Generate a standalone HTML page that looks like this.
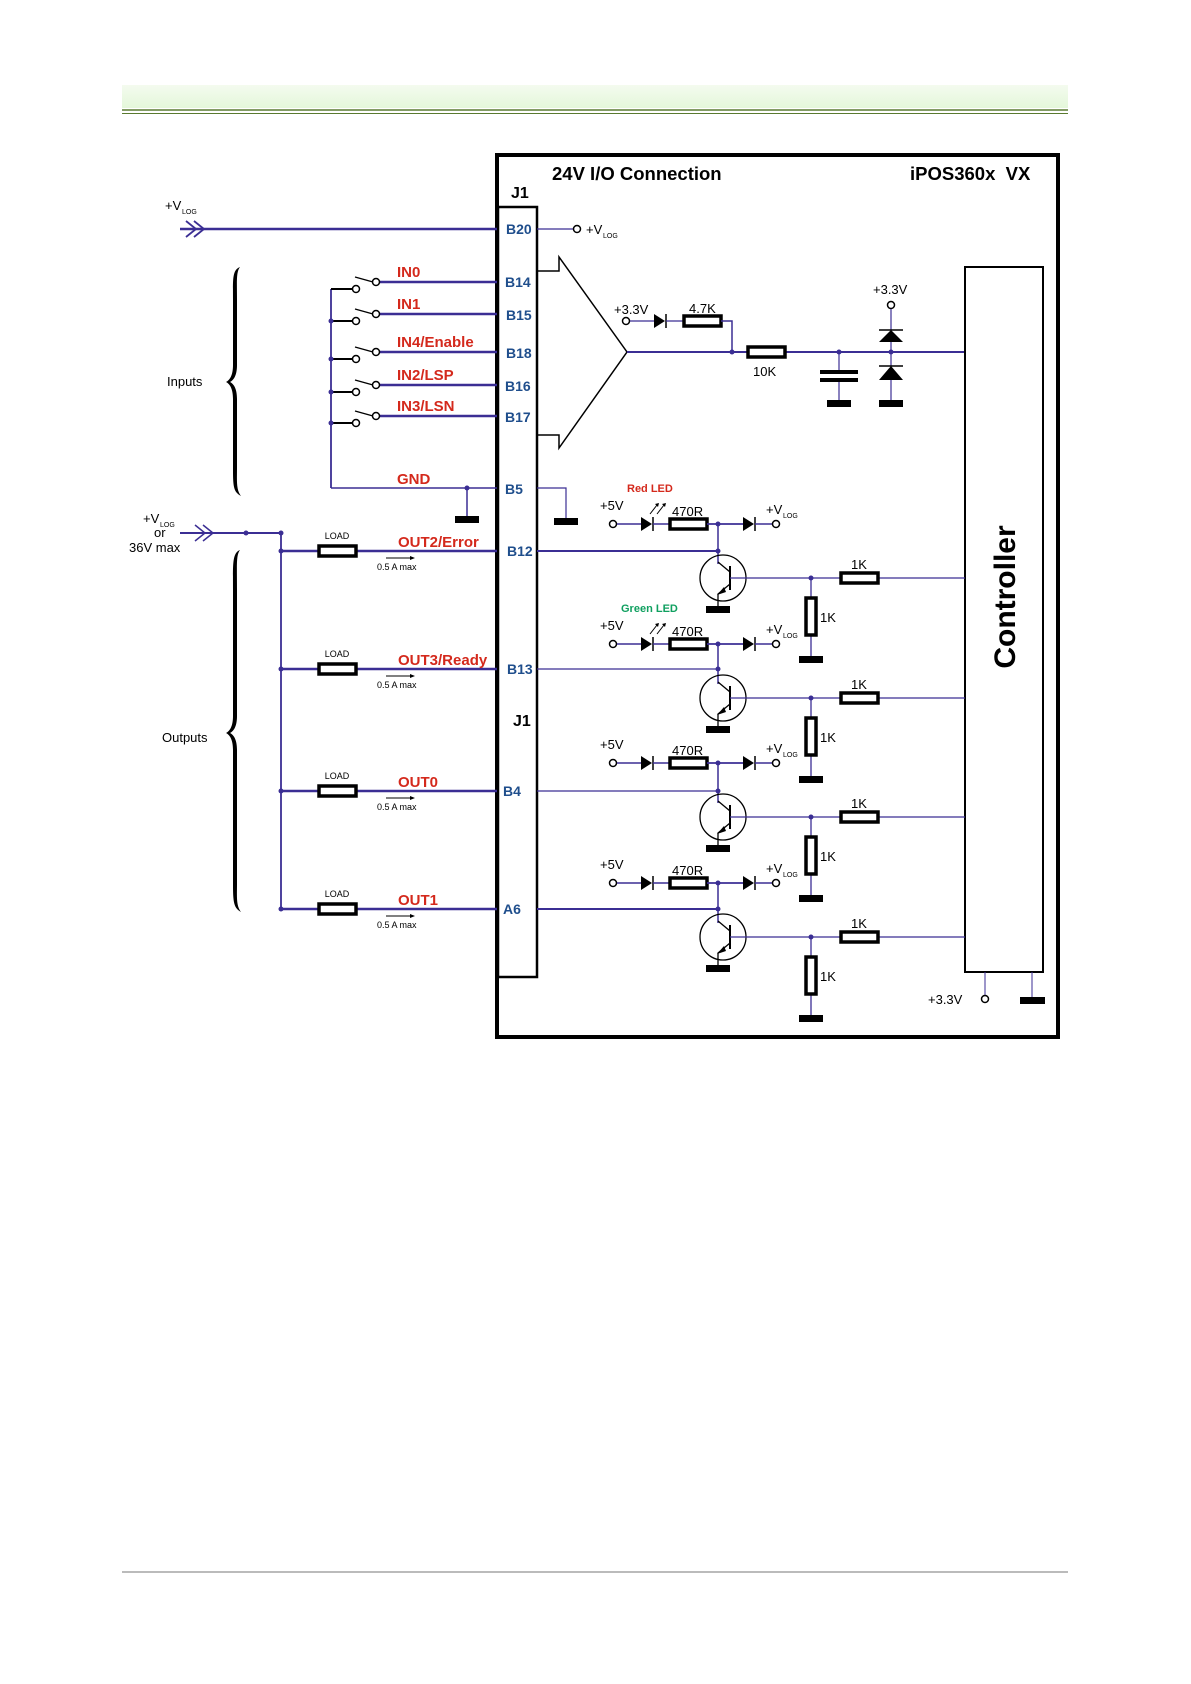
<!DOCTYPE html>
<html><head><meta charset="utf-8"><style>
html,body{margin:0;padding:0;background:#fff;}
svg{display:block;font-family:"Liberation Sans",sans-serif;}
.w{stroke:#3b2e94;fill:none;}
.k{stroke:#000;fill:none;}
.b{fill:#1f4e8c;font-weight:bold;font-size:14px;}
.r{fill:#d4291c;font-weight:bold;font-size:15px;}
.t{fill:#000;font-size:13px;}
.s{fill:#000;font-size:7px;}
</style></head><body>
<svg width="1191" height="1684" viewBox="0 0 1191 1684" xmlns="http://www.w3.org/2000/svg">
<defs>
<linearGradient id="hg" x1="0" y1="0" x2="0" y2="1"><stop offset="0" stop-color="#f4fbef"/><stop offset="1" stop-color="#e4f7da"/></linearGradient>
<g id="gnd"><rect x="-12" y="0" width="24" height="7" fill="#000"/></g>
<g id="res"><rect x="0" y="-5" width="37" height="10" fill="#fff" stroke="#000" stroke-width="3.5"/></g>
<g id="vres"><rect x="-5" y="0" width="10" height="37" fill="#fff" stroke="#000" stroke-width="3.5"/></g>
<g id="dio"><polygon points="0,-7 0,7 11,0" fill="#000"/><line x1="12" y1="-7" x2="12" y2="7" stroke="#000" stroke-width="1.5"/></g>
<g id="oc"><circle r="3.5" fill="#fff" stroke="#000" stroke-width="1.5"/></g>
<g id="dot"><circle r="2.5" fill="#3b2e94"/></g>
<g id="ch">
<use href="#oc" x="613" y="0"/>
<line class="w" x1="617" y1="0" x2="641" y2="0" stroke-width="1.5"/>
<use href="#dio" x="641" y="0"/>
<line class="w" x1="653" y1="0" x2="669" y2="0" stroke-width="1.5"/>
<use href="#res" x="670" y="0"/>
<line class="w" x1="707" y1="0" x2="743" y2="0" stroke-width="1.8"/>
<use href="#dio" x="743" y="0"/>
<line class="w" x1="755" y1="0" x2="772" y2="0" stroke-width="1.5"/>
<use href="#oc" x="776" y="0"/>
<text x="600" y="-14" class="t">+5V</text>
<text x="672" y="-8" class="t">470R</text>
<text x="766" y="-10" class="t">+V</text><text x="783" y="-6" class="s">LOG</text>
<use href="#dot" x="718" y="0"/>
<line class="w" x1="718" y1="0" x2="718" y2="40" stroke-width="1.5"/>
<circle cx="723" cy="54" r="23" fill="none" stroke="#000" stroke-width="1.3"/>
<path d="M718,38 L730,48" stroke="#000" stroke-width="1.3" fill="none"/>
<line x1="730" y1="42" x2="730" y2="66" stroke="#000" stroke-width="2"/>
<path d="M730,60 L718,70 V82" stroke="#000" stroke-width="1.3" fill="none"/>
<polygon points="717,71 724,63 726,68" fill="#000"/>
<use href="#gnd" x="718" y="82"/>
<line class="w" x1="730" y1="54" x2="965" y2="54" stroke-width="1.3"/>
<use href="#dot" x="811" y="54"/>
<use href="#res" x="841" y="54"/>
<text x="851" y="45" class="t">1K</text>
<line class="w" x1="811" y1="54" x2="811" y2="132" stroke-width="1.3"/>
<use href="#vres" x="811" y="74"/>
<text x="820" y="98" class="t">1K</text>
<use href="#gnd" x="811" y="132"/>
</g>
<g id="ledar">
<path d="M650,-10 L657,-19 M657,-10 L664,-19" stroke="#000" stroke-width="1"/>
<polygon points="655,-20 659,-21 658,-17" fill="#000"/>
<polygon points="662,-20 666,-21 665,-17" fill="#000"/>
</g>
</defs>
<!-- header -->
<rect x="122" y="85" width="946" height="23" fill="url(#hg)"/>
<line x1="122" y1="110" x2="1068" y2="110" stroke="#5a7a30" stroke-width="1.5"/>
<line x1="122" y1="113.5" x2="1068" y2="113.5" stroke="#5a7a30" stroke-width="1"/>
<line x1="122" y1="1572" x2="1068" y2="1572" stroke="#777" stroke-width="1"/>

<!-- outer box -->
<rect x="497" y="155" width="561" height="882" fill="none" stroke="#000" stroke-width="4"/>
<rect x="498" y="207" width="39" height="770" fill="none" stroke="#000" stroke-width="2.5"/>
<text x="552" y="180" font-size="18.5" font-weight="bold">24V I/O Connection</text>
<text x="910" y="180" font-size="18.5" font-weight="bold">iPOS360x&#160; VX</text>
<text x="511" y="198" font-size="16" font-weight="bold">J1</text>
<text x="513" y="726" font-size="16" font-weight="bold">J1</text>

<!-- B20 -->
<line class="w" x1="180" y1="229" x2="497" y2="229" stroke-width="2.5"/>
<path class="w" stroke-width="1.8" d="M186,221 L196,229 L186,237 M194,221 L204,229 L194,237"/>
<text x="165" y="210" class="t">+V</text><text x="182" y="214" class="s">LOG</text>
<text x="506" y="234" class="b">B20</text>
<line class="w" x1="537" y1="229" x2="573" y2="229" stroke-width="1.2"/>
<use href="#oc" x="577" y="229"/>
<text x="586" y="234" class="t">+V</text><text x="603" y="238" class="s">LOG</text>

<!-- inputs -->
<line class="w" x1="331" y1="289" x2="331" y2="488" stroke-width="1.8"/>
<g>
<line class="w" x1="380" y1="282" x2="497" y2="282" stroke-width="2.5"/>
<line x1="331" y1="289" x2="352" y2="289" stroke="#000" stroke-width="2"/>
<line x1="355" y1="277" x2="373" y2="282" stroke="#000" stroke-width="1.3"/>
<use href="#oc" x="356" y="289"/><use href="#oc" x="376" y="282"/>
<text x="397" y="277" class="r">IN0</text><text x="505" y="287" class="b">B14</text>
</g>
<g>
<line class="w" x1="380" y1="314" x2="497" y2="314" stroke-width="2.5"/>
<line x1="331" y1="321" x2="352" y2="321" stroke="#000" stroke-width="2"/>
<line x1="355" y1="309" x2="373" y2="314" stroke="#000" stroke-width="1.3"/>
<use href="#oc" x="356" y="321"/><use href="#oc" x="376" y="314"/>
<text x="397" y="309" class="r">IN1</text><text x="506" y="320" class="b">B15</text>
<use href="#dot" x="331" y="321"/>
</g>
<g>
<line class="w" x1="380" y1="352" x2="497" y2="352" stroke-width="2.5"/>
<line x1="331" y1="359" x2="352" y2="359" stroke="#000" stroke-width="2"/>
<line x1="355" y1="347" x2="373" y2="352" stroke="#000" stroke-width="1.3"/>
<use href="#oc" x="356" y="359"/><use href="#oc" x="376" y="352"/>
<text x="397" y="347" class="r">IN4/Enable</text><text x="506" y="358" class="b">B18</text>
<use href="#dot" x="331" y="359"/>
</g>
<g>
<line class="w" x1="380" y1="385" x2="497" y2="385" stroke-width="2.5"/>
<line x1="331" y1="392" x2="352" y2="392" stroke="#000" stroke-width="2"/>
<line x1="355" y1="380" x2="373" y2="385" stroke="#000" stroke-width="1.3"/>
<use href="#oc" x="356" y="392"/><use href="#oc" x="376" y="385"/>
<text x="397" y="380" class="r">IN2/LSP</text><text x="505" y="391" class="b">B16</text>
<use href="#dot" x="331" y="392"/>
</g>
<g>
<line class="w" x1="380" y1="416" x2="497" y2="416" stroke-width="2.5"/>
<line x1="331" y1="423" x2="352" y2="423" stroke="#000" stroke-width="2"/>
<line x1="355" y1="411" x2="373" y2="416" stroke="#000" stroke-width="1.3"/>
<use href="#oc" x="356" y="423"/><use href="#oc" x="376" y="416"/>
<text x="397" y="411" class="r">IN3/LSN</text><text x="505" y="422" class="b">B17</text>
<use href="#dot" x="331" y="423"/>
</g>
<!-- GND -->
<line class="w" x1="331" y1="488" x2="497" y2="488" stroke-width="1.5"/>
<line class="w" x1="467" y1="488" x2="467" y2="516" stroke-width="1.5"/>
<use href="#dot" x="467" y="488"/>
<use href="#gnd" x="467" y="516"/>
<text x="397" y="484" class="r">GND</text><text x="505" y="494" class="b">B5</text>
<path class="w" stroke-width="1.2" d="M537,488 H566 V518"/>
<use href="#gnd" x="566" y="518"/>

<!-- braces -->
<path d="M240,267 C232,270 233,280 233,300 L233,365 C233,375 230,380 226,382 C230,384 233,389 233,399 L233,470 C233,488 234,492 241,496 C236,490 237,480 237,468 L237,399 C237,389 234,384 230,382 C234,380 237,375 237,365 L237,300 C237,282 236,272 240,267 Z" fill="#000"/>
<text x="167" y="386" class="t">Inputs</text>
<path d="M240,550 C232,553 233,565 233,590 L233,716 C233,726 230,731 226,733 C230,735 233,740 233,750 L233,885 C233,903 234,908 241,912 C236,906 237,896 237,884 L237,750 C237,740 234,735 230,733 C234,731 237,726 237,716 L237,590 C237,565 236,555 240,550 Z" fill="#000"/>
<text x="162" y="742" class="t">Outputs</text>

<!-- comparator -->
<path class="k" stroke-width="1.5" d="M537,271 H559 V257 L627,352 L559,448 V435 H537"/>
<line class="w" x1="627" y1="352" x2="965" y2="352" stroke-width="2"/>
<use href="#oc" x="626" y="321"/>
<text x="614" y="314" class="t">+3.3V</text>
<line class="w" x1="630" y1="321" x2="654" y2="321" stroke-width="1.2"/>
<use href="#dio" x="654" y="321"/>
<line class="w" x1="666" y1="321" x2="683" y2="321" stroke-width="1.2"/>
<use href="#res" x="684" y="321"/>
<text x="689" y="313" class="t">4.7K</text>
<path class="w" stroke-width="1.5" d="M721,321 H732 V352"/>
<use href="#dot" x="732" y="352"/>
<use href="#res" x="748" y="352"/>
<text x="753" y="376" class="t">10K</text>
<use href="#dot" x="839" y="352"/>
<line class="w" x1="839" y1="352" x2="839" y2="372" stroke-width="1.2"/>
<rect x="820" y="370" width="38" height="4" fill="#000"/>
<rect x="820" y="378" width="38" height="4" fill="#000"/>
<line class="w" x1="839" y1="382" x2="839" y2="400" stroke-width="1.2"/>
<use href="#gnd" x="839" y="400"/>
<use href="#oc" x="891" y="305"/>
<text x="873" y="294" class="t">+3.3V</text>
<line class="w" x1="891" y1="309" x2="891" y2="400" stroke-width="1.2"/>
<polygon points="879,342 903,342 891,330" fill="#000"/><line x1="879" y1="330" x2="903" y2="330" stroke="#000" stroke-width="1.5"/>
<polygon points="879,380 903,380 891,366" fill="#000"/><line x1="879" y1="366" x2="903" y2="366" stroke="#000" stroke-width="1.5"/>
<use href="#dot" x="891" y="352"/>
<use href="#gnd" x="891" y="400"/>

<!-- controller -->
<rect x="965" y="267" width="78" height="705" fill="none" stroke="#000" stroke-width="2"/>
<text transform="translate(1015,597) rotate(-90)" text-anchor="middle" font-size="30" font-weight="bold">Controller</text>
<line x1="985" y1="972" x2="985" y2="995" stroke="#3b2e94" stroke-width="1"/>
<use href="#oc" x="985" y="999"/>
<text x="928" y="1004" class="t">+3.3V</text>
<line x1="1032" y1="972" x2="1032" y2="997" stroke="#3b2e94" stroke-width="1"/>
<rect x="1020" y="997" width="25" height="7" fill="#000"/>

<!-- left power -->
<text x="143" y="523" class="t">+V</text><text x="160" y="527" class="s">LOG</text>
<text x="154" y="537" class="t">or</text>
<text x="129" y="552" class="t">36V max</text>
<line class="w" x1="180" y1="533" x2="281" y2="533" stroke-width="2"/>
<path class="w" stroke-width="1.5" d="M195,525 L205,533 L195,541 M203,525 L213,533 L203,541"/>
<use href="#dot" x="246" y="533"/><use href="#dot" x="281" y="533"/>
<line class="w" x1="281" y1="533" x2="281" y2="909" stroke-width="1.8"/>

<!-- outputs left -->
<g>
<line class="w" x1="281" y1="551" x2="497" y2="551" stroke-width="2.5"/><use href="#dot" x="281" y="551"/>
<use href="#res" x="319" y="551"/><text x="337" y="539" font-size="9" text-anchor="middle">LOAD</text>
<text x="398" y="547" class="r">OUT2/Error</text>
<line x1="386" y1="558" x2="411" y2="558" stroke="#000" stroke-width="1"/><polygon points="410,556 415,558 410,560"/>
<text x="377" y="570" font-size="9">0.5 A max</text>
<text x="507" y="556" class="b">B12</text>
</g>
<g>
<line class="w" x1="281" y1="669" x2="497" y2="669" stroke-width="2.5"/><use href="#dot" x="281" y="669"/>
<use href="#res" x="319" y="669"/><text x="337" y="657" font-size="9" text-anchor="middle">LOAD</text>
<text x="398" y="665" class="r">OUT3/Ready</text>
<line x1="386" y1="676" x2="411" y2="676" stroke="#000" stroke-width="1"/><polygon points="410,674 415,676 410,678"/>
<text x="377" y="688" font-size="9">0.5 A max</text>
<text x="507" y="674" class="b">B13</text>
</g>
<g>
<line class="w" x1="281" y1="791" x2="497" y2="791" stroke-width="2.5"/><use href="#dot" x="281" y="791"/>
<use href="#res" x="319" y="791"/><text x="337" y="779" font-size="9" text-anchor="middle">LOAD</text>
<text x="398" y="787" class="r">OUT0</text>
<line x1="386" y1="798" x2="411" y2="798" stroke="#000" stroke-width="1"/><polygon points="410,796 415,798 410,800"/>
<text x="377" y="810" font-size="9">0.5 A max</text>
<text x="503" y="796" class="b">B4</text>
</g>
<g>
<line class="w" x1="281" y1="909" x2="497" y2="909" stroke-width="2.5"/><use href="#dot" x="281" y="909"/>
<use href="#res" x="319" y="909"/><text x="337" y="897" font-size="9" text-anchor="middle">LOAD</text>
<text x="398" y="905" class="r">OUT1</text>
<line x1="386" y1="916" x2="411" y2="916" stroke="#000" stroke-width="1"/><polygon points="410,914 415,916 410,918"/>
<text x="377" y="928" font-size="9">0.5 A max</text>
<text x="503" y="914" class="b">A6</text>
</g>

<!-- channels -->
<use href="#ch" x="0" y="524"/>
<use href="#ch" x="0" y="644"/>
<use href="#ch" x="0" y="763"/>
<use href="#ch" x="0" y="883"/>
<use href="#ledar" x="0" y="524"/>
<use href="#ledar" x="0" y="644"/>
<text x="627" y="492" font-size="11" font-weight="bold" fill="#d4291c">Red LED</text>
<text x="621" y="612" font-size="11" font-weight="bold" fill="#10a060">Green LED</text>
<line class="w" x1="537" y1="551" x2="718" y2="551" stroke-width="2"/><use href="#dot" x="718" y="551"/>
<line class="w" x1="537" y1="669" x2="718" y2="669" stroke-width="1.3"/><use href="#dot" x="718" y="669"/>
<line class="w" x1="537" y1="791" x2="718" y2="791" stroke-width="1.3"/><use href="#dot" x="718" y="791"/>
<line class="w" x1="537" y1="909" x2="718" y2="909" stroke-width="2"/><use href="#dot" x="718" y="909"/>
</svg>
</body></html>
